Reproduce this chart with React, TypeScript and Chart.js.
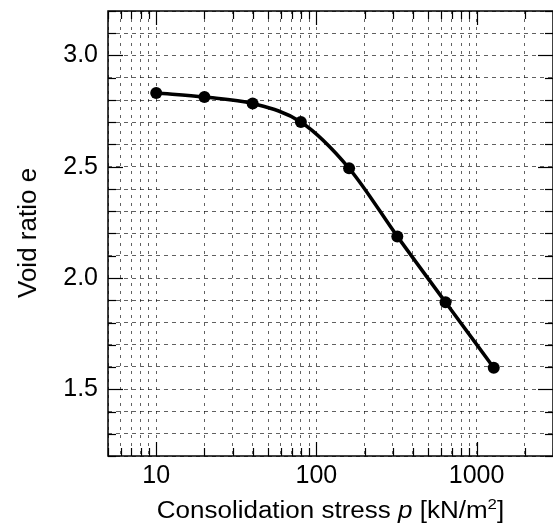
import React, { useEffect, useRef } from 'react';
import { Chart, registerables } from 'chart.js';

Chart.register(...registerables);

// ---- data ----
const stressValues = [10, 20, 40, 80, 160, 320, 640, 1280];
const voidRatios = [2.831, 2.813, 2.784, 2.701, 2.493, 2.187, 1.891, 1.597];

// ---- axes ----
const xTickValues = [5, 6, 7, 8, 9, 10, 20, 30, 40, 50, 60, 70, 80, 90, 100, 200, 300, 400, 500, 600, 700, 800, 900, 1000, 2000, 3000];
const xLabelValues = [10, 100, 1000];
const yLabelValues = [1.5, 2.0, 2.5, 3.0];
const xMin = 5;
const xMax = 3000;
const yMin = 1.2;
const yMax = 3.2;
const yStep = 0.1;

const FONT = '"Liberation Sans", Arial, Helvetica, sans-serif';
const TICK_FONT_SIZE = 25;

const isYLabel = (v: number) => yLabelValues.some((l) => Math.abs(l - v) < 1e-6);
const isXLabel = (v: number) => xLabelValues.some((l) => Math.abs(l - v) < 1e-6);

const framePlugin = {
  id: 'frameTicks',
  beforeDatasetsDraw(chart: any) {
    const { ctx, chartArea: a, scales } = chart;
    const line = (x1: number, y1: number, x2: number, y2: number) => {
      ctx.beginPath();
      ctx.moveTo(x1, y1);
      ctx.lineTo(x2, y2);
      ctx.stroke();
    };
    ctx.save();
    ctx.strokeStyle = '#000';
    ctx.lineWidth = 1.2;
    scales.x.ticks.forEach((t: any) => {
      const px = Math.round(scales.x.getPixelForValue(t.value)) + 0.5;
      const len = isXLabel(t.value) ? 14 : 8;
      line(px, a.bottom, px, a.bottom - len);
      line(px, a.top, px, a.top + len);
    });
    scales.y.ticks.forEach((t: any) => {
      const py = Math.round(scales.y.getPixelForValue(t.value)) + 0.5;
      const len = isYLabel(t.value) ? 15 : 8;
      line(a.left, py, a.left + len, py);
      line(a.right, py, a.right - len, py);
    });
    ctx.lineWidth = 1.5;
    ctx.strokeRect(a.left, a.top, a.right - a.left, a.bottom - a.top);
    ctx.restore();
  },
};

export default function App() {
  const canvasRef = useRef<HTMLCanvasElement | null>(null);

  useEffect(() => {
    const canvas = canvasRef.current;
    if (!canvas) return;
    const chart = new Chart(canvas, {
      type: 'line',
      data: {
        datasets: [
          {
            data: stressValues.map((x, i) => ({ x, y: voidRatios[i] })),
            borderColor: '#000',
            backgroundColor: '#000',
            borderWidth: 3.5,
            pointRadius: 6,
            pointBackgroundColor: '#000',
            pointBorderWidth: 0,
            cubicInterpolationMode: 'monotone',
            fill: false,
          },
        ],
      },
      options: {
        responsive: false,
        animation: false,
        events: [],
        layout: { autoPadding: false, padding: { top: 11, right: 0, left: 0, bottom: 0 } },
        plugins: {
          legend: { display: false },
          tooltip: { enabled: false },
          title: { display: false },
        },
        scales: {
          x: {
            type: 'logarithmic',
            min: xMin,
            max: xMax,
            afterBuildTicks: (scale: any) => {
              scale.ticks = xTickValues.map((v) => ({ value: v, major: false }));
            },
            afterFit: (scale: any) => {
              scale.height = 67;
              scale.paddingLeft = 0;
              scale.paddingRight = 0;
            },
            ticks: {
              autoSkip: false,
              maxRotation: 0,
              minRotation: 0,
              padding: 5,
              color: '#000',
              font: { family: FONT, size: TICK_FONT_SIZE },
              callback: (v: any) => (isXLabel(Number(v)) ? String(v) : ''),
            },
            grid: { color: 'rgba(0,0,0,0.62)', lineWidth: 1, drawTicks: false },
            border: { display: false, dash: [3, 5] },
          },
          y: {
            type: 'linear',
            min: yMin,
            max: yMax,
            afterFit: (scale: any) => {
              scale.width = 108;
              scale.paddingTop = 0;
              scale.paddingBottom = 0;
            },
            ticks: {
              stepSize: yStep,
              autoSkip: false,
              padding: 10,
              color: '#000',
              font: { family: FONT, size: TICK_FONT_SIZE },
              callback: (v: any) => (isYLabel(Number(v)) ? Number(v).toFixed(1) : ''),
            },
            grid: { color: 'rgba(0,0,0,0.62)', lineWidth: 1, drawTicks: false },
            border: { display: false, dash: [4, 4] },
          },
        },
      },
      plugins: [framePlugin],
    } as any);
    return () => chart.destroy();
  }, []);

  return (
    <div
      style={{
        position: 'absolute',
        left: 0,
        top: 0,
        width: 553,
        height: 523,
        overflow: 'hidden',
        background: '#fff',
        fontFamily: FONT,
        color: '#000',
      }}
    >
      <canvas ref={canvasRef} width={553} height={523} style={{ position: 'absolute', left: 0, top: 0 }} />
      <div
        style={{
          position: 'absolute',
          left: 108,
          width: 445,
          top: 498,
          lineHeight: '24px',
          fontSize: 23,
          textAlign: 'center',
          whiteSpace: 'nowrap',
          transform: 'scaleX(1.13)',
          transformOrigin: '50% 50%',
        }}
      >
        Consolidation stress <i>p</i> [kN/m<sup style={{ fontSize: '0.65em', lineHeight: 0, verticalAlign: '0.6em' }}>2</sup>]
      </div>
      <div
        style={{
          position: 'absolute',
          left: 27,
          top: 233,
          width: 0,
          height: 0,
        }}
      >
        <div
          style={{
            position: 'absolute',
            left: 0,
            top: 0,
            transform: 'translate(-50%, -50%) rotate(-90deg)',
            fontSize: 26,
            lineHeight: '28px',
            whiteSpace: 'nowrap',
          }}
        >
          Void ratio e
        </div>
      </div>
    </div>
  );
}
